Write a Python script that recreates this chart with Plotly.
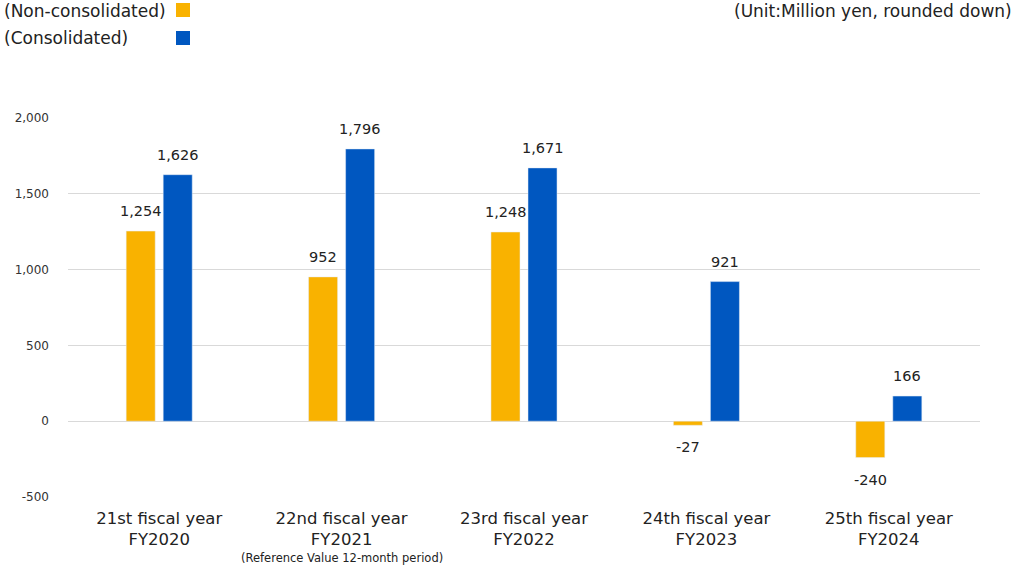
import plotly.graph_objects as go

categories = ["21st fiscal year<br>FY2020", "22nd fiscal year<br>FY2021", "23rd fiscal year<br>FY2022",
              "24th fiscal year<br>FY2023", "25th fiscal year<br>FY2024"]
non_consolidated = [1254, 952, 1248, -27, -240]
consolidated = [1626, 1796, 1671, 921, 166]
y_ticks = [-500, 0, 500, 1000, 1500, 2000]
y_tick_labels = ["-500", "0", "500", "1,000", "1,500", "2,000"]

orange = "#F9B200"
blue = "#0057C0"
font = "DejaVu Sans"

PW, PH = 912, 379  # plot area size in px

fig = go.Figure()
fig.add_bar(x=categories, y=non_consolidated, marker_color=orange, name="(Non-consolidated)",
            hoverinfo="x+y")
fig.add_bar(x=categories, y=consolidated, marker_color=blue, name="(Consolidated)",
            hoverinfo="x+y")

for series, shift in ((non_consolidated, -18.5), (consolidated, 18.5)):
    for c, v in zip(categories, series):
        fig.add_annotation(x=c, y=v, xref="x", yref="y", text=f"{v:,}", showarrow=False,
                           xshift=shift, yshift=20 if v >= 0 else -22,
                           font=dict(family=font, size=14.5, color="#222"))

fig.update_layout(
    width=1024, height=569,
    margin=dict(l=68, r=44, t=118, b=72),
    paper_bgcolor="white", plot_bgcolor="white",
    barmode="group", bargap=0.594, bargroupgap=0.216,
    showlegend=False,
    font=dict(family=font, color="#222"),
    xaxis=dict(showgrid=False, tickfont=dict(family=font, size=16.5, color="#222"), ticks="",
               showline=False, zeroline=False, automargin=False, ticklabelstandoff=9),
    yaxis=dict(range=[-500, 2000], tickvals=y_ticks, ticktext=y_tick_labels, showgrid=True,
               gridcolor="#D9D9D9", gridwidth=1, zeroline=True, zerolinecolor="#D9D9D9",
               zerolinewidth=1, ticks="", ticklabelstandoff=18, automargin=False,
               tickfont=dict(family=font, size=12, color="#333")),
)

# legend (custom: text then swatch)
fig.add_annotation(x=-66 / PW, y=1 + (118 - 11) / PH, xref="paper", yref="paper",
                   text="(Non-consolidated)", showarrow=False, xanchor="left", yanchor="middle",
                   font=dict(family=font, size=17, color="#222"))
fig.add_annotation(x=-66 / PW, y=1 + (118 - 38) / PH, xref="paper", yref="paper",
                   text="(Consolidated)", showarrow=False, xanchor="left", yanchor="middle",
                   font=dict(family=font, size=17, color="#222"))
fig.add_shape(type="rect", xref="paper", yref="paper",
              x0=(176 - 68) / PW, x1=(190 - 68) / PW,
              y0=1 + (118 - 17) / PH, y1=1 + (118 - 3) / PH,
              fillcolor=orange, line=dict(width=0))
fig.add_shape(type="rect", xref="paper", yref="paper",
              x0=(176 - 68) / PW, x1=(190 - 68) / PW,
              y0=1 + (118 - 45) / PH, y1=1 + (118 - 31) / PH,
              fillcolor=blue, line=dict(width=0))
fig.add_annotation(x=(1014 - 68) / PW, y=1 + (118 - 11) / PH, xref="paper", yref="paper",
                   text="(Unit:Million yen, rounded down)", showarrow=False, xanchor="right",
                   yanchor="middle", font=dict(family=font, size=17, color="#222"))
fig.add_annotation(x=categories[1], y=0, xref="x", yref="paper", yshift=-(558 - 497),
                   text="(Reference Value 12-month period)", showarrow=False, yanchor="middle",
                   font=dict(family=font, size=11.5, color="#222"))

fig.write_html("out.html", config={"displayModeBar": False},
               post_script="document.body.style.margin='0';")
